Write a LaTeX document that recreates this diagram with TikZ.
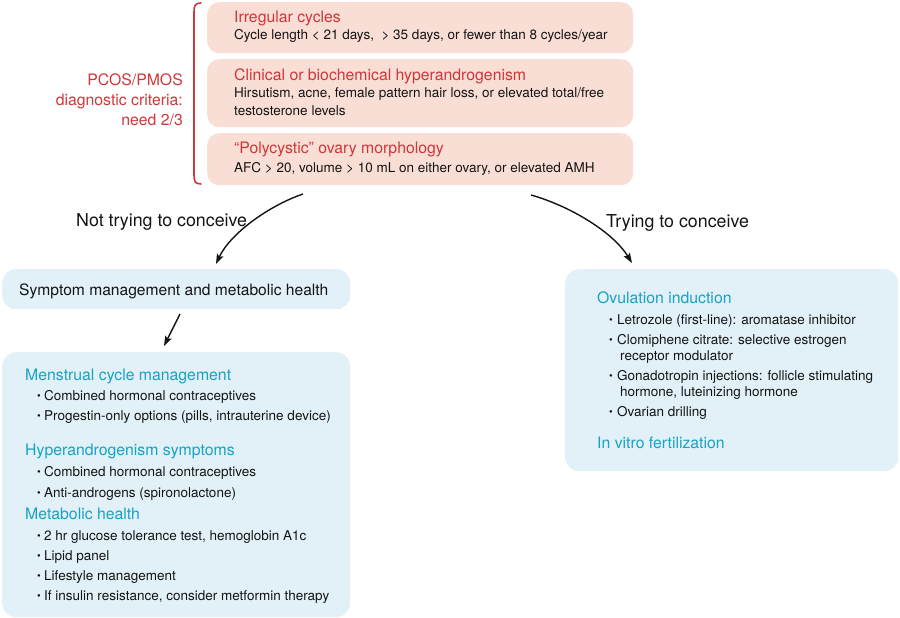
\documentclass[tikz,border=0pt]{standalone}
\usepackage{fontspec}
\setmainfont{TeX Gyre Heros}
\usetikzlibrary{arrows.meta}
\definecolor{pinkfill}{HTML}{F9DED5}
\definecolor{redtxt}{HTML}{D0363A}
\definecolor{bluefill}{HTML}{E1F1F7}
\definecolor{cyantxt}{HTML}{16A2C5}
\definecolor{txt}{HTML}{141414}
\newcommand{\bulA}{\makebox[7pt][l]{\raisebox{0.9pt}{\fontsize{10.5}{10}\selectfont\textbullet}}}
\newcommand{\bulB}{\makebox[8pt][l]{\raisebox{0.9pt}{\fontsize{10.5}{10}\selectfont\textbullet}}}
\begin{document}
\begin{tikzpicture}[x=1pt,y=-1pt,
  pinkbox/.style={fill=pinkfill, rounded corners=12pt, anchor=north west, inner sep=0, draw=none},
  bluebox/.style={fill=bluefill, rounded corners=14pt, anchor=north west, inner sep=0, draw=none},
  redtitle/.style={font=\fontsize{15.8}{18}\selectfont, text=redtxt, anchor=base west, inner sep=0},
  bluetitle/.style={font=\fontsize{15.8}{18}\selectfont, text=cyantxt, anchor=base west, inner sep=0},
  body/.style={font=\fontsize{13.5}{16}\selectfont, text=txt, anchor=base west, inner sep=0},
  redlabel/.style={font=\fontsize{15.8}{18}\selectfont, text=redtxt, anchor=base east, inner sep=0},
  branch/.style={font=\fontsize{17.8}{20}\selectfont, text=txt, anchor=base west, inner sep=0},
  conn/.style={draw=txt, line width=1.4pt, -{Stealth[length=10pt,width=7pt,inset=2pt]}}
]
\useasboundingbox (0,0) rectangle (900,618);

% criteria boxes
\node[pinkbox, minimum width=426pt, minimum height=51pt] (c1) at (207,2) {};
\node[pinkbox, minimum width=426pt, minimum height=68pt] (c2) at (207,59) {};
\node[pinkbox, minimum width=426pt, minimum height=52pt] (c3) at (207,133) {};

\node[redtitle] (c1t) at (234,23) {Irregular cycles};
\node[body] (c1b) at (234,40) {Cycle length < 21 days, \ > 35 days, or fewer than 8 cycles/year};
\node[redtitle] (c2t) at (234,81) {Clinical or biochemical hyperandrogenism};
\node[body] (c2b) at (234,98) {Hirsutism, acne, female pattern hair loss, or elevated total/free};
\node[body] (c2c) at (234,115) {testosterone levels};
\node[redtitle] (c3t) at (234,153) {“Polycystic” ovary morphology};
\node[body] (c3b) at (234,172) {AFC > 20, volume > 10 mL on either ovary, or elevated AMH};

% bracket and label
\draw[redtxt, line width=1.6pt, line cap=round]
  (201,3) .. controls (195,3) and (194,6) .. (194,12) -- (194,175)
  .. controls (194,181) and (195,184) .. (201,184);
\node[redlabel] (l1) at (183,85) {PCOS/PMOS};
\node[redlabel] (l2) at (183,105) {diagnostic criteria:};
\node[redlabel] (l3) at (183,125) {need 2/3};

% branch labels
\node[branch] (nt) at (76,226) {Not trying to conceive};
\node[branch] (tt) at (606,227) {Trying to conceive};

% symptom box
\node[bluebox, minimum width=348pt, minimum height=40pt] (sm) at (2,269) {};
\node[body, font=\fontsize{15.6}{18}\selectfont] (smt) at (19,295) {Symptom management and metabolic health};

% left big box
\node[bluebox, minimum width=348pt, minimum height=265pt] (lb) at (2,352) {};
\node[bluetitle] (m1) at (25,380) {Menstrual cycle management};
\node[body] (m1a) at (37,400) {\bulA Combined hormonal contraceptives};
\node[body] (m1b) at (37,420) {\bulA Progestin-only options (pills, intrauterine device)};
\node[bluetitle] (m2) at (25,455) {Hyperandrogenism symptoms};
\node[body] (m2a) at (37,476) {\bulA Combined hormonal contraceptives};
\node[body] (m2b) at (37,497) {\bulA Anti-androgens (spironolactone)};
\node[bluetitle] (m3) at (25,519) {Metabolic health};
\node[body] (m3a) at (37,540) {\bulA 2 hr glucose tolerance test, hemoglobin A1c};
\node[body] (m3b) at (37,560) {\bulA Lipid panel};
\node[body] (m3c) at (37,580) {\bulA Lifestyle management};
\node[body] (m3d) at (37,600) {\bulA If insulin resistance, consider metformin therapy};

% right box
\node[bluebox, minimum width=333pt, minimum height=202pt] (rb) at (565,269) {};
\node[bluetitle] (o1) at (597,303) {Ovulation induction};
\node[body] (o1a) at (609,324) {\bulB Letrozole (first-line): aromatase inhibitor};
\node[body] (o1b) at (609,344) {\bulB Clomiphene citrate: selective estrogen};
\node[body] (o1c) at (620,360) {receptor modulator};
\node[body] (o1d) at (609,380) {\bulB Gonadotropin injections: follicle stimulating};
\node[body] (o1e) at (620,396) {hormone, luteinizing hormone};
\node[body] (o1f) at (609,416) {\bulB Ovarian drilling};
\node[bluetitle] (o2) at (597,448) {In vitro fertilization};

% connectors
\coordinate (a1s) at (303,194);
\coordinate (a1e) at (216,264);
\coordinate (a2s) at (531,195);
\coordinate (a2e) at (632,263);
\coordinate (a3s) at (180,314);
\coordinate (a3e) at (164,346);
\draw[conn] (a1s) .. controls (268,206) and (230,234) .. (a1e);
\draw[conn] (a2s) .. controls (570,206) and (613,232) .. (a2e);
\draw[conn] (a3s) -- (a3e);
\end{tikzpicture}
\end{document}
